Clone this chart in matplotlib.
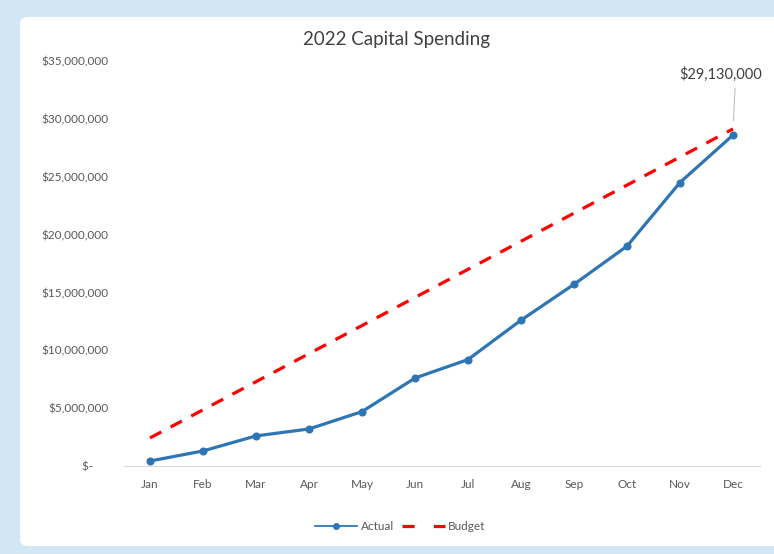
import numpy as np
import matplotlib
matplotlib.use("Agg")
from matplotlib import pyplot as plt
from matplotlib.patches import FancyBboxPatch
from matplotlib.ticker import FuncFormatter

months = ['Jan', 'Feb', 'Mar', 'Apr', 'May', 'Jun',
          'Jul', 'Aug', 'Sep', 'Oct', 'Nov', 'Dec']
actual = [430000, 1300000, 2600000, 3200000, 4700000, 7600000,
          9200000, 12600000, 15700000, 19000000, 24500000, 28600000]
budget = [2427500, 4855000, 7282500, 9710000, 12137500, 14565000,
          16992500, 19420000, 21847500, 24275000, 26702500, 29130000]
yticks = [0, 5000000, 10000000, 15000000, 20000000, 25000000, 30000000, 35000000]

plt.rcParams['font.family'] = ['Lato', 'DejaVu Sans']

fig = plt.figure(figsize=(7.74, 5.54), dpi=100)
fig.patch.set_facecolor('#d2e7f3')

# white chart panel inside the blue frame
panel = FancyBboxPatch((20/774, 8/554), 1.0, 529/554,
                       boxstyle='round,pad=0,rounding_size=0.012',
                       transform=fig.transFigure, facecolor='white',
                       edgecolor='none', zorder=-1)
fig.patches.append(panel)

ax = fig.add_axes([123.5/774, 1 - 466/554, 636/774, 405/554])
ax.set_facecolor('none')

x = np.arange(len(months))
ax.plot(x, actual, color='#2e75b6', lw=2.3, marker='o', ms=4.8,
        label='Actual', zorder=3)
ax.plot(x, budget, color='#ff0000', lw=2.3, ls=(0, (4.0, 3.3)),
        label='Budget', zorder=2)

ax.set_xlim(-0.5, len(months) - 0.5)
ax.set_ylim(0, 35000000)
ax.set_xticks(x)
ax.set_xticklabels(months)
ax.set_yticks(yticks)

def money(v, pos):
    if v == 0:
        return '$-     '
    return '${:,.0f}'.format(v)

ax.yaxis.set_major_formatter(FuncFormatter(money))
ax.tick_params(axis='both', length=0, labelsize=8.5, labelcolor='#595959')
ax.tick_params(axis='y', pad=11)
ax.tick_params(axis='x', pad=9)

for s in ['top', 'right', 'left']:
    ax.spines[s].set_visible(False)
ax.spines['bottom'].set_color('#d9d9d9')
ax.spines['bottom'].set_linewidth(0.8)

ax.annotate('${:,.0f}'.format(budget[-1]), xy=(x[-1], budget[-1]),
            xytext=(-9, 34), textcoords='offset points',
            ha='center', va='bottom', fontsize=10.5, color='#404040',
            arrowprops=dict(arrowstyle='-', color='#bfbfbf', lw=0.8,
                            relpos=(0.68, 0), shrinkA=3, shrinkB=6))

fig.text(397/774, 1 - 40/554, '2022 Capital Spending', ha='center',
         va='center', fontsize=13.5, color='#404040')

leg = fig.legend(loc='center', bbox_to_anchor=(400/774, 1 - 527/554), ncol=2,
                 frameon=False, fontsize=8.5, labelcolor='#595959',
                 handlelength=3.6, columnspacing=0.7, handletextpad=0.3)
h_act, h_bud = leg.legend_handles
h_act.set_linewidth(1.3)
h_act.set_markersize(4)
h_bud.set_linewidth(2.3)
h_bud.set_linestyle((0, (3.8, 6.0)))

fig.savefig('out.png', dpi=100, facecolor=fig.get_facecolor())
